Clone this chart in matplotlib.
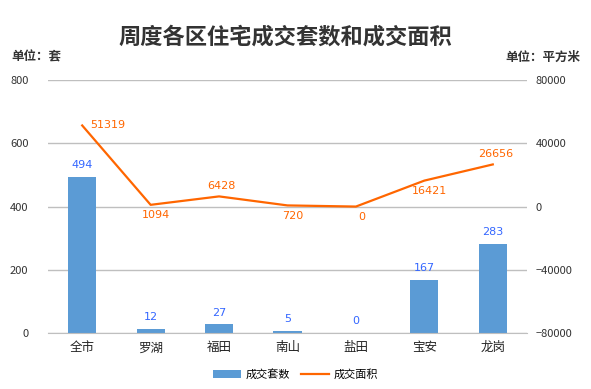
import matplotlib
matplotlib.use("Agg")
import matplotlib.pyplot as plt
import numpy as np

plt.rcParams['font.family'] = ['Noto Sans CJK SC', 'DejaVu Sans']

categories = ['全市', '罗湖', '福田', '南山', '盐田', '宝安', '龙岗']
units = [494, 12, 27, 5, 0, 167, 283]
areas = [51319, 1094, 6428, 720, 0, 16421, 26656]
area_label_pos = ['right', 'below', 'above', 'below', 'below', 'below', 'above']

bar_color = '#5B9BD5'
line_color = '#FF6600'
bar_text = '#3366FF'

fig = plt.figure(figsize=(5.91, 3.89), dpi=100)
ax = fig.add_axes([0.0812, 0.144, 0.8105, 0.650])
ax2 = ax.twinx()

x = np.arange(len(categories))
bars = ax.bar(x, units, width=0.41, color=bar_color, zorder=2, label='成交套数')
ax.set_ylim(0, 800)
ax.set_yticks([0, 200, 400, 600, 800])
ax.set_xlim(-0.5, len(categories) - 0.5)
ax.set_xticks(x)
ax.set_xticklabels(categories, fontsize=9)
ax.yaxis.grid(True, color='#BFBFBF', linewidth=1)
ax.set_axisbelow(True)

for xi, v in zip(x, units):
    ax.annotate(str(v), (xi, v), xytext=(0, 5), textcoords='offset points',
                ha='center', va='bottom', color=bar_text, fontsize=8, family='DejaVu Sans')

line, = ax2.plot(x, areas, color=line_color, linewidth=1.6, zorder=3, label='成交面积')
ax2.set_ylim(-80000, 80000)
ax2.set_yticks([-80000, -40000, 0, 40000, 80000])

for xi, v, pos in zip(x, areas, area_label_pos):
    if pos == 'right':
        off, ha, va = (6, 0), 'left', 'center'
    elif pos == 'above':
        off, ha, va = (2, 4), 'center', 'bottom'
    else:
        off, ha, va = (4, -4), 'center', 'top'
    ax2.annotate(str(v), (xi, v), xytext=off, textcoords='offset points',
                 ha=ha, va=va, color=line_color, fontsize=8, family='DejaVu Sans')

for a in (ax, ax2):
    for s in a.spines.values():
        s.set_visible(False)
    a.tick_params(length=0, labelsize=8, colors='#333333')
ax.spines['bottom'].set_visible(True)
ax.spines['bottom'].set_color('#BFBFBF')
ax.tick_params(axis='x', labelsize=9, colors='#222222', pad=6)
ax.tick_params(axis='y', pad=14)
ax2.tick_params(axis='y', pad=6)

fig.text(0.483, 0.905, '周度各区住宅成交套数和成交面积', ha='center', va='center',
         fontsize=16, fontweight='bold', color='#333333')
fig.text(0.02, 0.853, '单位：套', ha='left', va='center', fontsize=9, fontweight='bold', color='#333333')
fig.text(0.982, 0.853, '单位：平方米', ha='right', va='center', fontsize=9, fontweight='bold', color='#333333')

fig.legend([bars, line], ['成交套数', '成交面积'], loc='center', bbox_to_anchor=(0.5, 0.038),
           ncol=2, frameon=False, fontsize=8, handlelength=2.5, columnspacing=1.0, handletextpad=0.4)

fig.savefig('out.png', dpi=100)
